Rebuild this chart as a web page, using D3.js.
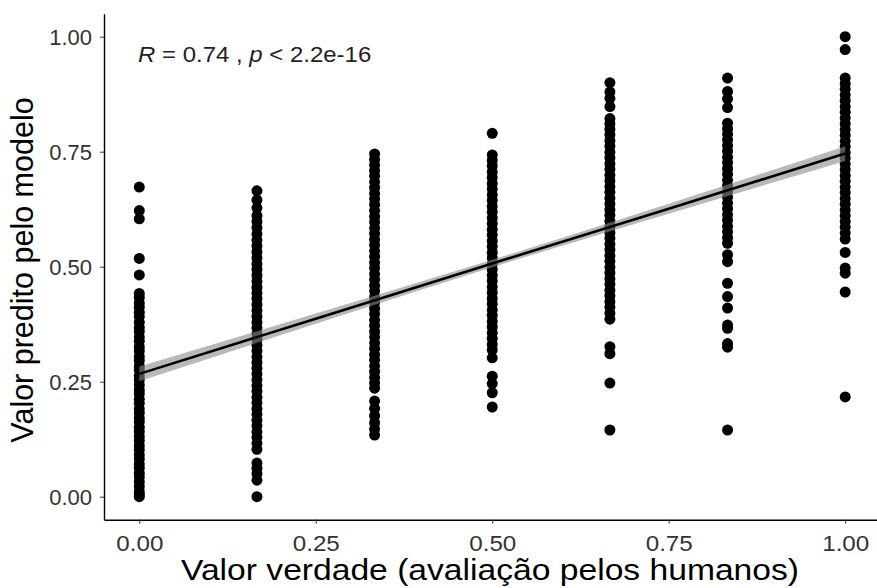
<!DOCTYPE html>
<html><head><meta charset="utf-8">
<script src="https://cdn.jsdelivr.net/npm/d3@7"></script>
<style>body{margin:0;background:#fff;} text{font-family:"Liberation Sans",Arial,sans-serif;}</style>
</head><body><svg id="c" width="877" height="588"></svg>
<script>
const categories = [0, 1/6, 2/6, 3/6, 4/6, 5/6, 1];
const col0 = [0.673,0.622,0.604,0.518,0.482,0.442,0.433,0.421,0.412,0.401,0.392,0.379,0.368,0.359,0.347,0.338,0.326,0.317,0.305,0.296,0.284,0.276,0.263,0.254,0.243,0.232,0.224,0.212,0.203,0.191,0.182,0.171,0.163,0.151,0.142,0.131,0.122,0.111,0.102,0.091,0.082,0.071,0.062,0.051,0.043,0.032,0.022,0.011,0.004,0.0];
const col1 = [0.665,0.645,0.628,0.611,0.598,0.585,0.571,0.558,0.545,0.532,0.519,0.506,0.494,0.481,0.468,0.455,0.443,0.431,0.418,0.405,0.392,0.379,0.367,0.354,0.342,0.329,0.317,0.304,0.292,0.279,0.267,0.254,0.241,0.229,0.216,0.204,0.191,0.179,0.166,0.154,0.141,0.129,0.116,0.103,0.073,0.062,0.050,0.036,0.0];
const col2 = [0.745,0.733,0.721,0.709,0.697,0.684,0.672,0.659,0.647,0.635,0.622,0.609,0.597,0.584,0.572,0.559,0.547,0.534,0.522,0.509,0.497,0.484,0.472,0.459,0.447,0.434,0.422,0.409,0.397,0.384,0.372,0.359,0.347,0.334,0.322,0.309,0.297,0.284,0.272,0.259,0.247,0.236,0.208,0.192,0.176,0.161,0.147,0.134];
const col3 = [0.79,0.743,0.731,0.719,0.706,0.694,0.681,0.669,0.656,0.644,0.631,0.619,0.606,0.594,0.581,0.569,0.556,0.544,0.531,0.519,0.506,0.494,0.481,0.469,0.456,0.444,0.431,0.419,0.406,0.394,0.381,0.369,0.356,0.344,0.331,0.319,0.302,0.262,0.246,0.226,0.195];
const col4 = [0.900,0.880,0.866,0.848,0.822,0.811,0.799,0.787,0.774,0.762,0.749,0.737,0.724,0.712,0.699,0.687,0.674,0.662,0.649,0.637,0.624,0.612,0.599,0.587,0.574,0.562,0.549,0.537,0.524,0.512,0.499,0.487,0.474,0.462,0.449,0.437,0.424,0.412,0.399,0.386,0.326,0.311,0.247,0.145];
const col5 = [0.910,0.881,0.865,0.846,0.812,0.800,0.788,0.776,0.763,0.751,0.738,0.726,0.713,0.701,0.688,0.676,0.663,0.651,0.638,0.626,0.613,0.601,0.588,0.576,0.563,0.551,0.526,0.511,0.464,0.435,0.410,0.373,0.366,0.333,0.325,0.145];
const col6 = [1.000,0.972,0.910,0.898,0.886,0.873,0.861,0.848,0.836,0.823,0.811,0.798,0.786,0.773,0.761,0.748,0.736,0.723,0.711,0.698,0.686,0.673,0.661,0.648,0.636,0.623,0.611,0.598,0.586,0.573,0.560,0.531,0.497,0.486,0.445,0.217];
const columns = [col0, col1, col2, col3, col4, col5, col6];
const fitX = [0, 0.25, 0.5, 0.75, 1];
const fitY = [0.267, 0.387, 0.507, 0.626, 0.746];
const fitSE = [0.016, 0.011, 0.008, 0.011, 0.016];
const ticks = [0, 0.25, 0.5, 0.75, 1];
const tickLabels = ["0.00", "0.25", "0.50", "0.75", "1.00"];

const svg = d3.select("#c");
const x = d3.scaleLinear().domain([-0.05, 1.05]).range([104, 880.5]);
const y = d3.scaleLinear().domain([-0.05, 1.05]).range([519.7, 13.7]);

const pts = [];
columns.forEach((col, i) => col.forEach(v => pts.push({x: categories[i], y: v})));
svg.append("g").selectAll("circle").data(pts).join("circle")
  .attr("cx", d => x(d.x)).attr("cy", d => y(d.y)).attr("r", 5.5).attr("fill", "#000");

const band = fitX.map((v, i) => ({x: v, lo: fitY[i] - fitSE[i], hi: fitY[i] + fitSE[i]}));
svg.append("path").datum(band)
  .attr("d", d3.area().x(d => x(d.x)).y0(d => y(d.lo)).y1(d => y(d.hi)).curve(d3.curveMonotoneX))
  .attr("fill", "#8a8a8a").attr("fill-opacity", 0.6);
svg.append("path").datum(fitX.map((v, i) => ({x: v, y: fitY[i]})))
  .attr("d", d3.line().x(d => x(d.x)).y(d => y(d.y)))
  .attr("fill", "none").attr("stroke", "#000").attr("stroke-width", 2.6);

const xa = svg.append("g").attr("transform", "translate(0,519.7)")
  .call(d3.axisBottom(x).tickValues(ticks).tickFormat((d, i) => tickLabels[i]).tickSize(4).tickSizeOuter(0));
const ya = svg.append("g").attr("transform", "translate(104,0)")
  .call(d3.axisLeft(y).tickValues(ticks).tickFormat((d, i) => tickLabels[i]).tickSize(4).tickSizeOuter(0));
[xa, ya].forEach(a => {
  a.select(".domain").attr("stroke", "#000").attr("stroke-width", 1.4);
  a.selectAll(".tick line").attr("stroke", "#333");
  a.selectAll(".tick text").attr("fill", "#333").style("font-size", "22px").style("font-family", "'Liberation Sans', Arial, sans-serif");
});
xa.selectAll(".tick text").attr("y", 0).attr("dy", 0).attr("transform", "translate(0,31) scale(1.1,1)");
ya.selectAll(".tick text").attr("x", -12).attr("dy", "0.36em");

svg.append("text").attr("transform", "translate(490,580) scale(1.16,1)").attr("text-anchor", "middle")
  .style("font-size", "29px").attr("fill", "#000").text("Valor verdade (avaliação pelos humanos)");
svg.append("text").attr("transform", "translate(33,270) rotate(-90)").attr("text-anchor", "middle")
  .style("font-size", "30.5px").attr("fill", "#000").text("Valor predito pelo modelo");

const t = svg.append("text").attr("transform", "translate(138,62) scale(1.09,1)").style("font-size", "22px").attr("fill", "#222");
t.append("tspan").style("font-style", "italic").text("R");
t.append("tspan").text(" = 0.74 , ");
t.append("tspan").style("font-style", "italic").text("p");
t.append("tspan").text(" < 2.2e-16");
</script></body></html>
